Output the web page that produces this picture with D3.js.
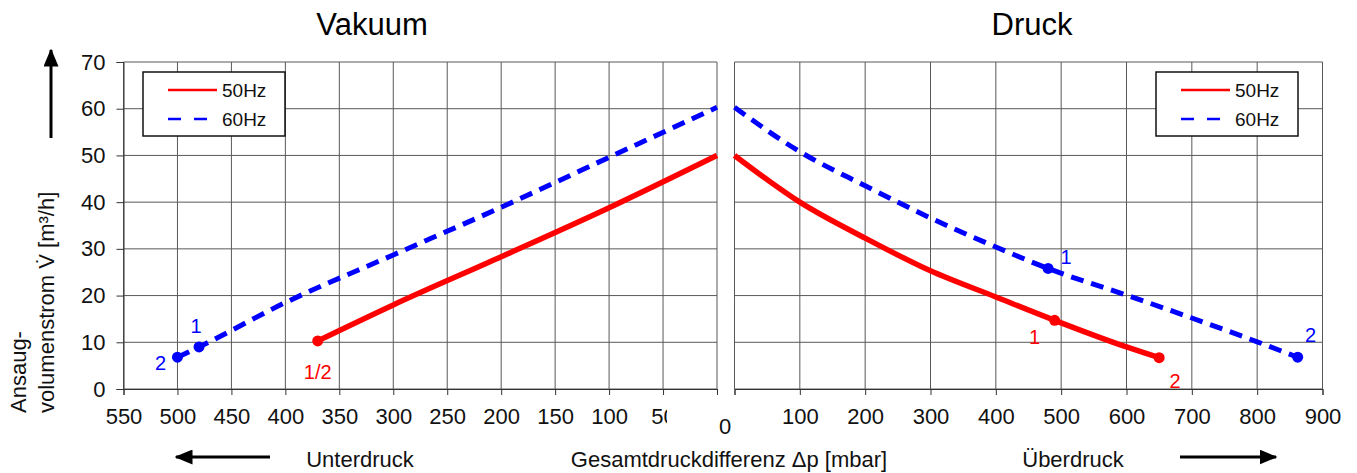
<!DOCTYPE html>
<html>
<head>
<meta charset="utf-8">
<script src="https://cdn.jsdelivr.net/npm/d3@7"></script>
<style>
  body { margin: 0; background: #fff; }
  svg { font-family: "Liberation Sans", Arial, sans-serif; }
</style>
</head>
<body>
<svg id="chart" width="1357" height="473"></svg>
<script>
// tick values of both panels
const vakTicks = [550, 500, 450, 400, 350, 300, 250, 200, 150, 100, 50, 0]
const druckTicks = [0, 100, 200, 300, 400, 500, 600, 700, 800, 900]
const yTicks = [0, 10, 20, 30, 40, 50, 60, 70]

// vakuum side, pressure [mbar] and flow [m3/h]
const vak50P = [370, 300, 200, 100, 0]
const vak50Q = [10.3, 18.0, 28.3, 38.8, 50.0]
const vak60P = [500, 480, 400, 300, 200, 100, 0]
const vak60Q = [6.8, 9.0, 18.5, 28.7, 38.9, 49.6, 60.3]

// druck side
const dru50P = [0, 100, 200, 300, 400, 490, 600, 650]
const dru50Q = [50.0, 40.0, 32.3, 25.3, 19.7, 14.7, 9.0, 6.7]
const dru60P = [0, 100, 200, 300, 400, 480, 600, 700, 800, 862]
const dru60Q = [60.3, 50.8, 43.5, 36.6, 30.4, 25.8, 20.1, 15.2, 10.1, 6.8]

// operating points with their labels
const vak50Marks = [{ p: 370, q: 10.3, label: '1/2' }]
const vak60Marks = [{ p: 500, q: 6.8, label: '2' }, { p: 480, q: 9.0, label: '1' }]
const dru50Marks = [{ p: 490, q: 14.7, label: '1' }, { p: 650, q: 6.7, label: '2' }]
const dru60Marks = [{ p: 480, q: 25.8, label: '1' }, { p: 862, q: 6.8, label: '2' }]

const legendNames = ['50Hz', '60Hz']
const titles = ['Vakuum', 'Druck']

const red = '#ff0000'
const blue = '#0000ff'
const font = '"Liberation Sans", Arial, sans-serif'

const svg = d3.select('#chart')

const xVak = d3.scaleLinear().domain([550, 0]).range([123.5, 717])
const xDru = d3.scaleLinear().domain([0, 900]).range([734.5, 1322.5])
const y = d3.scaleLinear().domain([0, 70]).range([389, 62])

function zip(ps, qs) {
  return ps.map((p, i) => [p, qs[i]])
}

function drawPanel(x, ticks, showY) {
  const g = svg.append('g')
  const [x0, x1] = d3.extent(x.range())
  // grid
  g.selectAll('.vgrid').data(ticks).enter().append('line')
    .attr('x1', d => x(d)).attr('x2', d => x(d))
    .attr('y1', y(70)).attr('y2', y(0))
    .attr('stroke', '#595959').attr('stroke-width', 1)
  g.selectAll('.hgrid').data(yTicks).enter().append('line')
    .attr('x1', x0).attr('x2', x1)
    .attr('y1', d => y(d)).attr('y2', d => y(d))
    .attr('stroke', '#595959').attr('stroke-width', 1)

  // x axis, the 0 label is drawn separately between the panels
  const xa = g.append('g')
    .attr('transform', 'translate(0,' + y(0) + ')')
    .call(d3.axisBottom(x).tickValues(ticks).tickSize(6).tickPadding(13)
      .tickFormat(d => d === 0 ? '' : d))
  xa.select('.domain').attr('stroke', '#333')
  xa.selectAll('.tick line').attr('stroke', '#333')
  xa.selectAll('text').attr('font-size', 22).attr('fill', '#111')
    .attr('font-family', font)

  if (showY) {
    const ya = g.append('g')
      .attr('transform', 'translate(' + x0 + ',0)')
      .call(d3.axisLeft(y).tickValues(yTicks).tickSize(7).tickPadding(11))
    ya.select('.domain').attr('stroke', '#333')
    ya.selectAll('.tick line').attr('stroke', '#333')
    ya.selectAll('text').attr('font-size', 22).attr('fill', '#111')
      .attr('font-family', font)
  }
  return g
}

const gVak = drawPanel(xVak, vakTicks, true)
const gDru = drawPanel(xDru, druckTicks, false)

// the "50" of the vakuum axis is cut off by the right edge
svg.append('rect').attr('x', 667).attr('y', 398).attr('width', 60).attr('height', 30).attr('fill', '#fff')
svg.append('text').attr('x', 725).attr('y', 434).attr('text-anchor', 'middle')
  .attr('font-size', 22).attr('fill', '#111').text('0')

function drawCurve(g, x, data, color, dashed) {
  const line = d3.line()
    .x(d => x(d[0])).y(d => y(d[1]))
    .curve(d3.curveMonotoneX)
  const sorted = data.slice().sort((a, b) => x(a[0]) - x(b[0]))
  g.append('path')
    .attr('d', line(sorted))
    .attr('fill', 'none')
    .attr('stroke', color)
    .attr('stroke-width', dashed ? 5 : 5.5)
    .attr('stroke-dasharray', dashed ? '13,8' : null)
}

function drawMarks(g, x, marks, color, offsets) {
  g.selectAll(null).data(marks).enter().append('circle')
    .attr('cx', d => x(d.p)).attr('cy', d => y(d.q)).attr('r', 5.5)
    .attr('fill', color)
  g.selectAll(null).data(marks).enter().append('text')
    .attr('x', (d, i) => x(d.p) + offsets[i][0])
    .attr('y', (d, i) => y(d.q) + offsets[i][1])
    .attr('text-anchor', 'middle')
    .attr('font-size', 20).attr('fill', color)
    .text(d => d.label)
}

drawCurve(gVak, xVak, zip(vak60P, vak60Q), blue, true)
drawCurve(gVak, xVak, zip(vak50P, vak50Q), red, false)
drawCurve(gDru, xDru, zip(dru60P, dru60Q), blue, true)
drawCurve(gDru, xDru, zip(dru50P, dru50Q), red, false)

drawMarks(gVak, xVak, vak60Marks, blue, [[-17, 13], [-3, -14]])
drawMarks(gVak, xVak, vak50Marks, red, [[0, 38]])
drawMarks(gDru, xDru, dru50Marks, red, [[-20, 24], [16, 30]])
drawMarks(gDru, xDru, dru60Marks, blue, [[18, -4], [13, -15]])

// legends
function drawLegend(bx, by) {
  const lg = svg.append('g').attr('transform', 'translate(' + bx + ',' + by + ')')
  lg.append('rect').attr('width', 142).attr('height', 64)
    .attr('fill', '#fff').attr('stroke', '#111').attr('stroke-width', 1.5)
  legendNames.forEach((name, i) => {
    const ly = 18 + i * 29
    lg.append('line').attr('x1', 25).attr('x2', 74).attr('y1', ly).attr('y2', ly)
      .attr('stroke', i === 0 ? red : blue).attr('stroke-width', 2.5)
      .attr('stroke-dasharray', i === 0 ? null : '13,13')
    lg.append('text').attr('x', 79).attr('y', ly + 7)
      .attr('font-size', 19).attr('fill', '#111').text(name)
  })
}
drawLegend(143, 72)
drawLegend(1156, 72)

// titles
svg.append('text').attr('x', 372).attr('y', 35).attr('text-anchor', 'middle')
  .attr('font-size', 31).attr('fill', '#000').text(titles[0])
svg.append('text').attr('x', 1032).attr('y', 35).attr('text-anchor', 'middle')
  .attr('font-size', 31).attr('fill', '#000').text(titles[1])

// y axis title
svg.append('text').attr('transform', 'translate(26,413) rotate(-90)')
  .attr('font-size', 22).attr('fill', '#111').text('Ansaug-')
svg.append('text').attr('transform', 'translate(54,413) rotate(-90)')
  .attr('font-size', 22).attr('fill', '#111').text('volumenstrom V\u0307 [m\u00b3/h]')

// arrows
svg.append('defs').append('marker')
  .attr('id', 'head').attr('viewBox', '0 0 12 10')
  .attr('refX', 11).attr('refY', 5)
  .attr('markerWidth', 6).attr('markerHeight', 5)
  .attr('markerUnits', 'strokeWidth')
  .attr('orient', 'auto')
  .append('path').attr('d', 'M0,0 L12,5 L0,10 z').attr('fill', '#000')

function arrow(xa, ya, xb, yb) {
  svg.append('line').attr('x1', xa).attr('y1', ya).attr('x2', xb).attr('y2', yb)
    .attr('stroke', '#000').attr('stroke-width', 3)
    .attr('marker-end', 'url(#head)')
}
arrow(51, 138, 51, 50)
arrow(270, 457, 176, 457)
arrow(1180, 457, 1276, 457)

svg.append('text').attr('x', 360).attr('y', 467).attr('text-anchor', 'middle')
  .attr('font-size', 22).attr('fill', '#111').text('Unterdruck')
svg.append('text').attr('x', 729).attr('y', 467).attr('text-anchor', 'middle')
  .attr('font-size', 22).attr('fill', '#111').text('Gesamtdruckdifferenz \u0394p [mbar]')
svg.append('text').attr('x', 1073).attr('y', 467).attr('text-anchor', 'middle')
  .attr('font-size', 22).attr('fill', '#111').text('\u00dcberdruck')
</script>
</body>
</html>
